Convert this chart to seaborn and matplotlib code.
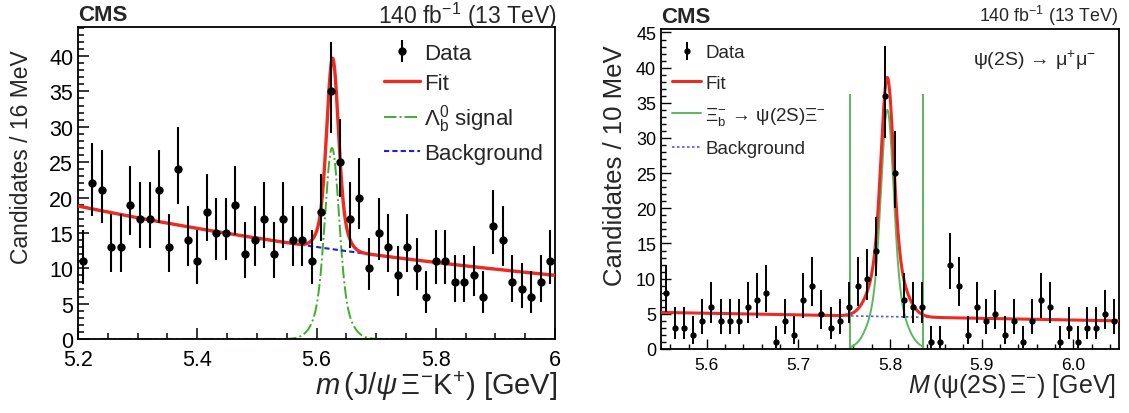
import numpy as np
import pandas as pd
import matplotlib
matplotlib.use('Agg')
import matplotlib.pyplot as plt
import seaborn as sns
from matplotlib.ticker import MultipleLocator, FixedLocator, FixedFormatter

# ---- left panel: m(J/psi Xi- K+), 16 MeV bins from 5.2 to 6.0 GeV
left_range = (5.2, 6.0)
left_nbins = 50
left_counts = [11, 22, 21, 13, 13, 19, 17, 17, 21, 13,
               24, 14, 11, 18, 15, 15, 19, 12, 14, 17,
               12, 17, 14, 14, 11, 18, 35, 25, 17, 20,
               10, 15, 13, 9, 13, 10, 6, 11, 11, 8,
               8, 9, 6, 16, 14, 8, 7, 6, 8, 11]
left_xticks = [5.2, 5.4, 5.6, 5.8, 6.0]
left_xticklabels = ['5.2', '5.4', '5.6', '5.8', '6']
# fit model (exponential background + double gaussian peak)
left_bkg = (18.8, 0.92)                       # norm at 5.2, decay / GeV
left_fit_peak = (5.627, 20.0, 0.009, 7.0, 0.017)   # mean, A1, s1, A2, s2
left_sig_peak = (5.626, 20.0, 0.011, 7.0, 0.022)

# ---- right panel: M(psi(2S) Xi-), 10 MeV bins from 5.55 to 6.05 GeV
right_range = (5.55, 6.05)
right_nbins = 50
right_counts = [8, 3, 3, 2, 4, 6, 4, 4, 4, 6,
                7, 8, 1, 4, 2, 7, 9, 5, 3, 4,
                6, 9, 10, 14, 36, 25, 7, 6, 6, 1,
                1, 12, 9, 2, 6, 4, 5, 2, 4, 1,
                4, 7, 6, 1, 3, 1, 3, 3, 5, 4]
right_xticks = [5.6, 5.7, 5.8, 5.9, 6.0]
right_xticklabels = ['5.6', '5.7', '5.8', '5.9', '6.0']
right_bkg = (5.2, -2.4)                        # value at 5.55, slope / GeV
right_peak = (5.797, 24.0, 0.0065, 10.0, 0.015)
right_window = [5.756, 5.836]                  # signal drawing range
right_window_height = 36.2

RED = '#ee2a22'
GREEN_L = '#3fae2a'
GREEN_R = '#5cb85c'
BLUE = '#1f1fe0'


def double_gauss(x, p):
    m, a1, s1, a2, s2 = p
    return a1 * np.exp(-0.5 * ((x - m) / s1) ** 2) + a2 * np.exp(-0.5 * ((x - m) / s2) ** 2)


def poisson_err(n):
    # approx. Garwood 68% interval (Wilson-Hilferty)
    n = np.asarray(n, dtype=float)
    lo = np.where(n > 0, n * (1 - 1 / (9 * np.maximum(n, 1)) - 1 / (3 * np.sqrt(np.maximum(n, 1)))) ** 3, 0)
    hi = (n + 1) * (1 - 1 / (9 * (n + 1)) + 1 / (3 * np.sqrt(n + 1))) ** 3
    return n - lo, hi - n


def centers(rng, nb):
    w = (rng[1] - rng[0]) / nb
    return rng[0] + w * (np.arange(nb) + 0.5)


sns.set_theme(style='ticks')
plt.rcParams['font.family'] = ['Liberation Sans', 'DejaVu Sans']
plt.rcParams['mathtext.fontset'] = 'custom'
plt.rcParams['mathtext.rm'] = 'Liberation Sans'
plt.rcParams['mathtext.it'] = 'Liberation Sans:italic'
plt.rcParams['mathtext.bf'] = 'Liberation Sans:bold'
plt.rcParams['axes.edgecolor'] = 'black'
plt.rcParams['xtick.color'] = 'black'
plt.rcParams['ytick.color'] = 'black'

fig = plt.figure(figsize=(11.29, 4.14), dpi=100)
ax1 = fig.add_axes([0.0691, 0.1787, 0.4225, 0.7536])
ax2 = fig.add_axes([0.5855, 0.1546, 0.4057, 0.773])

# ---------------- left
xl = centers(left_range, left_nbins)
df_l = pd.DataFrame({'mass': xl, 'count': left_counts})
lo_e, hi_e = poisson_err(df_l['count'])
xf = np.linspace(left_range[0], left_range[1], 1200)
bkg_l = left_bkg[0] * np.exp(-left_bkg[1] * (xf - left_range[0]))
fit_l = bkg_l + double_gauss(xf, left_fit_peak)
sig_l = double_gauss(xf, left_sig_peak)

sns.lineplot(x=xf, y=sig_l, ax=ax1, color=GREEN_L, lw=1.4, linestyle='-.', label=r'$\Lambda_{\mathrm{b}}^{0}$ signal', zorder=2)
sns.lineplot(x=xf, y=bkg_l, ax=ax1, color=BLUE, lw=1.5, linestyle=(0, (2.5, 1.5)), label='Background', zorder=2)
sns.lineplot(x=xf, y=fit_l, ax=ax1, color=RED, lw=2.4, label='Fit', zorder=3)
ax1.errorbar(df_l['mass'], df_l['count'], yerr=[lo_e, hi_e], fmt='o', color='black',
             ms=5, elinewidth=1.5, capsize=0, label='Data', zorder=5)

ax1.set_xlim(*left_range)
ax1.set_ylim(0, 44.1)
ax1.xaxis.set_major_locator(FixedLocator(left_xticks))
ax1.xaxis.set_major_formatter(FixedFormatter(left_xticklabels))
ax1.xaxis.set_minor_locator(MultipleLocator(0.05))
ax1.yaxis.set_major_locator(MultipleLocator(5))
ax1.yaxis.set_minor_locator(MultipleLocator(1))
ax1.tick_params(which='both', direction='in', labelsize=15.5, width=1.1)
ax1.tick_params(axis='x', pad=7)
ax1.tick_params(which='major', length=8)
ax1.tick_params(which='minor', length=4)
ax1.set_xlabel(r'$\mathit{m}\,(\mathrm{J}/\psi\,\Xi^{-}\mathrm{K}^{+})$ [GeV]', fontsize=21, loc='right')
ax1.xaxis.set_label_coords(1.006, -0.095)
ax1.set_ylabel('Candidates / 16 MeV', fontsize=16.5, loc='top')
ax1.yaxis.set_label_coords(-0.094, 0.93)
ax1.text(0.0, 1.006, 'CMS', transform=ax1.transAxes, fontsize=16, fontweight='bold', ha='left', va='bottom')
ax1.text(1.004, 0.99, r'140 fb$^{-1}$ (13 TeV)', transform=ax1.transAxes, fontsize=16.5, ha='right', va='bottom')

h, l = ax1.get_legend_handles_labels()
order = ['Data', 'Fit', r'$\Lambda_{\mathrm{b}}^{0}$ signal', 'Background']
hd = dict(zip(l, h))
ax1.legend([hd[k] for k in order], order, loc='upper left', bbox_to_anchor=(0.642, 0.95),
           frameon=False, fontsize=16, handlelength=1.6, handletextpad=0.2,
           labelspacing=0.4, borderpad=0, borderaxespad=0)

# ---------------- right
xr = centers(right_range, right_nbins)
df_r = pd.DataFrame({'mass': xr, 'count': right_counts})
lo_e, hi_e = poisson_err(df_r['count'])
xf = np.linspace(right_range[0], right_range[1], 1200)
bkg_r = right_bkg[0] + right_bkg[1] * (xf - right_range[0])
fit_r = bkg_r + double_gauss(xf, right_peak)
xs = np.linspace(right_window[0], right_window[1], 400)
sig_r = double_gauss(xs, right_peak)

sig_label_r = r'$\Xi_{\mathrm{b}}^{-}\,\rightarrow\,\mathrm{\psi}(2\mathrm{S})\Xi^{-}$'
sns.lineplot(x=xs, y=sig_r, ax=ax2, color=GREEN_R, lw=1.4, label=sig_label_r, zorder=2)
ax2.vlines(right_window, 0, right_window_height, color=GREEN_R, lw=1.4, zorder=2)
sns.lineplot(x=xf, y=bkg_r, ax=ax2, color='#5555ee', lw=1.2, linestyle=(0, (1.5, 1.5)), label='Background', zorder=2)
sns.lineplot(x=xf, y=fit_r, ax=ax2, color=RED, lw=2.2, label='Fit', zorder=3)
ax2.errorbar(df_r['mass'], df_r['count'], yerr=[lo_e, hi_e], fmt='o', color='black',
             ms=3.5, elinewidth=1.4, capsize=0, label='Data', zorder=5)

ax2.set_xlim(*right_range)
ax2.set_ylim(0, 45.5)
ax2.xaxis.set_major_locator(FixedLocator(right_xticks))
ax2.xaxis.set_major_formatter(FixedFormatter(right_xticklabels))
ax2.xaxis.set_minor_locator(MultipleLocator(0.02))
ax2.yaxis.set_major_locator(MultipleLocator(5))
ax2.yaxis.set_minor_locator(MultipleLocator(1))
ax2.tick_params(which='both', direction='in', width=1.0)
ax2.tick_params(axis='x', labelsize=12.5, pad=6)
ax2.tick_params(axis='y', labelsize=13)
ax2.tick_params(which='major', length=7)
ax2.tick_params(which='minor', length=3.5)
ax2.set_xlabel(r'$\mathit{M}\,(\mathrm{\psi}(2\mathrm{S})\,\Xi^{-})$ [GeV]', fontsize=18, loc='right')
ax2.xaxis.set_label_coords(0.993, -0.07)
ax2.set_ylabel('Candidates / 10 MeV', fontsize=18.5, loc='top')
ax2.yaxis.set_label_coords(-0.075, 0.953)
ax2.text(0.0, 1.005, 'CMS', transform=ax2.transAxes, fontsize=16, fontweight='bold', ha='left', va='bottom')
ax2.text(0.998, 1.005, r'140 fb$^{-1}$ (13 TeV)', transform=ax2.transAxes, fontsize=12.8, ha='right', va='bottom')
ax2.text(0.948, 0.906, r'$\mathrm{\psi}(2\mathrm{S})\,\rightarrow\,\mathrm{\mu}^{+}\mathrm{\mu}^{-}$', transform=ax2.transAxes,
         fontsize=14, ha='right', va='center')

h, l = ax2.get_legend_handles_labels()
order = ['Data', 'Fit', sig_label_r, 'Background']
hd = dict(zip(l, h))
ax2.legend([hd[k] for k in order], order, loc='upper left', bbox_to_anchor=(0.025, 0.952),
           frameon=False, fontsize=13.5, handlelength=1.5, handletextpad=0.25,
           labelspacing=0.7, borderpad=0, borderaxespad=0)

for ax in (ax1, ax2):
    for s in ax.spines.values():
        s.set_linewidth(1.3)
        s.set_color('black')

fig.savefig('out.png', dpi=100)
